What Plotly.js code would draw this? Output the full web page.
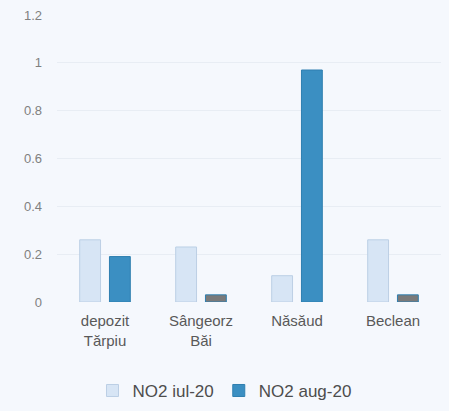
<!DOCTYPE html>
<html>
<head>
<meta charset="utf-8">
<script src="https://cdn.plot.ly/plotly-3.0.1.min.js"></script>
<style>
  body { margin: 0; background: #f5f8fd; }
  #chart { width: 449px; height: 411px; }
</style>
</head>
<body>
<div id="chart"></div>
<script>
let locations = ["depozit<br>Tărpiu", "Sângeorz<br>Băi", "Năsăud", "Beclean"];
let no2Jul = [0.26, 0.23, 0.11, 0.26];
let no2Aug = [0.19, 0.03, 0.97, 0.03];
let yTicks = [0, 0.2, 0.4, 0.6, 0.8, 1, 1.2];
let yTickLabels = ["0", "0.2", "0.4", "0.6", "0.8", "1", "1.2"];

var trace1 = {
  x: locations,
  y: no2Jul,
  name: "NO2 iul-20",
  type: "bar",
  marker: { color: "#d7e5f5", line: { color: "#bccfe5", width: 1 } },
};

var trace2 = {
  x: locations,
  y: no2Aug,
  name: "NO2 aug-20",
  type: "bar",
  marker: {
    color: ["#3b8fc2", "#7a7a7a", "#3b8fc2", "#7a7a7a"],
    line: { color: "#2f7fb0", width: 1 },
  },
};

var layout = {
  width: 449,
  height: 411,
  paper_bgcolor: "#f5f8fd",
  plot_bgcolor: "#f5f8fd",
  margin: { l: 57, r: 8, t: 15, b: 109, autoexpand: false },
  font: { family: "Arial", color: "#595959", size: 12 },
  barmode: "group",
  bargap: 0.38,
  bargroupgap: 0.3,
  showlegend: true,
  legend: {
    orientation: "h",
    x: 0.5,
    xref: "container",
    xanchor: "center",
    y: 0.005,
    yref: "container",
    yanchor: "bottom",
    itemwidth: 30,
    font: { size: 17, color: "#4d4d4d" },
  },
  xaxis: {
    type: "category",
    showgrid: false,
    zeroline: false,
    showline: false,
    ticks: "",
    ticklabelstandoff: 8,
    tickfont: { size: 15, color: "#595959" },
  },
  yaxis: {
    range: [0, 1.2],
    tickvals: yTicks,
    ticktext: yTickLabels,
    showgrid: true,
    gridcolor: "#e8edf4",
    zeroline: false,
    ticks: "",
    ticklabelstandoff: 14,
    tickfont: { size: 13, color: "#808080" },
  },
};

Plotly.newPlot("chart", [trace1, trace2], layout, { displayModeBar: false });
</script>
</body>
</html>
